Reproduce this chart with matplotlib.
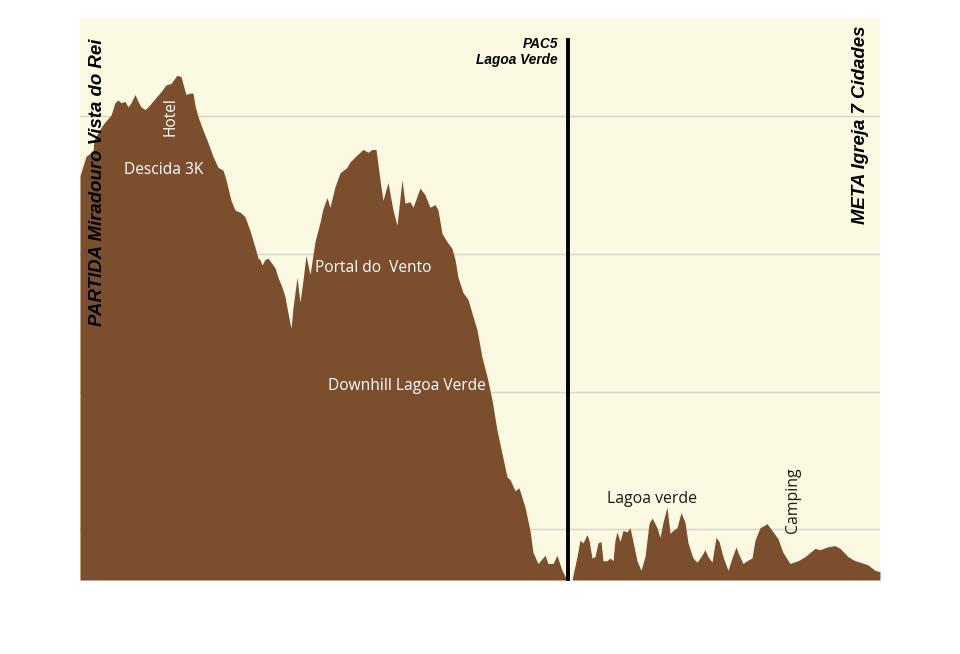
import matplotlib
matplotlib.use("Agg")
import matplotlib.pyplot as plt

dist = [0, 0.3, 0.65, 0.7, 1.05, 1.25, 1.55, 1.75, 1.9, 2.05, 2.25, 2.4, 2.55, 2.75, 2.9,
        3.05, 3.25, 3.4, 3.75, 4.05, 4.3, 4.55, 4.75, 4.85, 5.05, 5.2, 5.3, 5.5, 5.65, 5.75,
        5.9, 6.15, 6.4, 6.65, 6.9, 7.15, 7.3, 7.55, 7.75, 8.05, 8.25, 8.5, 8.75, 8.9, 9.0,
        9.1, 9.25, 9.4, 9.6, 9.75, 9.9, 10.1, 10.25, 10.4, 10.55, 10.65, 10.85, 11.0, 11.15,
        11.3, 11.5, 11.75, 12.0, 12.15, 12.35, 12.5, 12.75, 13.0, 13.35, 13.5, 13.85, 14.15,
        14.4, 14.6, 14.8, 15.0, 15.15, 15.4, 15.65, 15.85, 16.1, 16.25, 16.5, 16.65, 17.0,
        17.25, 17.5, 17.75, 17.9, 18.1, 18.35, 18.6, 18.75, 18.9, 19.15, 19.4, 19.6, 19.85,
        20.1, 20.35, 20.6, 20.85, 21.1, 21.35, 21.5, 21.75, 21.95, 22.25, 22.5, 22.65, 22.9,
        23.25, 23.4, 23.65, 23.85, 24.1, 24.35, 24.6, 24.85, 25.0, 25.15, 25.35, 25.45, 25.6,
        25.75, 25.9, 26.05, 26.15, 26.35, 26.5, 26.65, 26.75, 26.85, 27.0, 27.15, 27.35, 27.5,
        27.65, 27.85, 28.05, 28.25, 28.45, 28.6, 28.75, 28.85, 29.0, 29.15, 29.35, 29.5, 29.65,
        29.85, 30.05, 30.25, 30.4, 30.65, 30.85, 31.05, 31.25, 31.4, 31.6, 31.8, 31.95, 32.15,
        32.4, 32.6, 32.8, 32.9, 33.15, 33.35, 33.6, 33.75, 34.0, 34.25, 34.35, 34.6, 34.9,
        35.15, 35.5, 35.9, 36.25, 36.5, 36.75, 37.0, 37.35, 37.75, 38.0, 38.4, 38.75, 39.0,
        39.4, 39.75, 40.0]
elev = [657, 671, 675, 683, 692, 696, 701, 710, 712, 710, 711, 707, 710, 716, 711,
        707, 705, 707, 713, 718, 723, 724, 728, 730, 729, 721, 716, 717, 717, 708,
        700, 690, 681, 671, 663, 661, 654, 639, 632, 630, 627, 617, 605, 597, 596,
        592, 596, 597, 593, 590, 583, 576, 569, 557, 546, 561, 583, 565, 581,
        599, 585, 609, 623, 633, 641, 634, 649, 659, 663, 667, 672, 676,
        674, 676, 676, 654, 639, 652, 632, 621, 654, 637, 638, 634, 648,
        643, 634, 636, 632, 615, 609, 604, 596, 583, 572, 567, 557, 545,
        525, 511, 494, 472, 455, 438, 436, 428, 430, 416, 399, 383, 375,
        381, 375, 375, 381, 370, 363, 363, 380, 392, 390, 396, 392, 379,
        380, 390, 391, 377, 377, 379, 377, 392, 398, 391, 399, 398, 401,
        391, 377, 370, 380, 404, 408, 404, 401, 394, 405, 416, 397, 399,
        401, 412, 405, 390, 379, 376, 380, 385, 380, 376, 394, 391, 380,
        370, 379, 387, 383, 375, 377, 379, 392, 401, 403, 404, 399, 393,
        383, 375, 377, 380, 383, 386, 385, 387, 388, 386, 380, 377, 376,
        374, 370, 369]

grid_levels = [400, 500, 600, 700]
checkpoint_km = 24.4
checkpoint_label = "PAC5\nLagoa Verde"
start_label = "PARTIDA Miradouro Vista do Rei"
finish_label = "META Igreja 7 Cidades"
white_labels = [("Descida 3K", 4.2, 661, 0), ("Hotel", 4.55, 700, 90),
                ("Portal do  Vento", 14.65, 590, 0), ("Downhill Lagoa Verde", 16.35, 504, 0)]
dark_labels = [("Lagoa verde", 28.6, 422, 0), ("Camping", 35.65, 421, 90)]

BG = "#FBF9E1"
BROWN = "#7B4F2D"
YMIN, YMAX = 363, 771.6

fig = plt.figure(figsize=(9.6, 6.54), dpi=100)
ax = fig.add_axes([80 / 960, 74 / 654, 800 / 960, 562 / 654])
ax.set_facecolor(BG)
ax.set_xlim(0, 40)
ax.set_ylim(YMIN, YMAX)
for g in grid_levels:
    ax.axhline(g, color="#D6D5CC", lw=1.0, zorder=1)
ax.fill_between(dist, elev, YMIN, color=BROWN, lw=0, zorder=2)
ax.plot([checkpoint_km, checkpoint_km], [YMIN - 1.0, 757], color="black", lw=2.8,
        zorder=4, clip_on=False, solid_capstyle="butt")
for s in ax.spines.values():
    s.set_visible(False)
ax.set_xticks([])
ax.set_yticks([])

ax.text(checkpoint_km - 0.5, 758, checkpoint_label, ha="right", va="top",
        family="Liberation Sans", fontweight="bold", fontstyle="italic", fontsize=9.8,
        linespacing=1.2, zorder=5)
ax.text(0.9, 652, start_label, rotation=90, ha="center", va="center",
        family="Liberation Sans", fontweight="bold", fontstyle="italic", fontsize=13.4, zorder=5)
ax.text(39.0, 694, finish_label, rotation=90, ha="center", va="center",
        family="Liberation Sans", fontweight="bold", fontstyle="italic", fontsize=13.4, zorder=5)
for t, x, y, r in white_labels:
    ax.text(x, y, t, ha="center", va="center", rotation=r, color="white",
            family="Open Sans", fontsize=11.2, zorder=5)
for t, x, y, r in dark_labels:
    ax.text(x, y, t, ha="center", va="center", rotation=r, color="#1A1A1A",
            family="Open Sans", fontsize=11.4, zorder=5)

fig.savefig("out.png", dpi=100, facecolor="white")
